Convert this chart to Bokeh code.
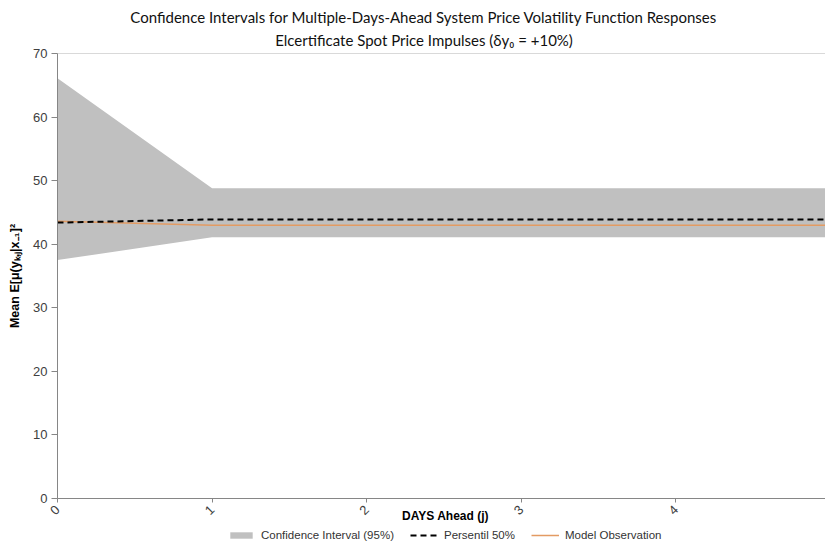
import math
from bokeh.plotting import figure
from bokeh.models import Range1d, Legend, LegendItem, Label, FixedTicker, LinearAxis
from bokeh.embed import file_html
from bokeh.resources import INLINE

# ---- data ----
days = [0, 1, 2, 3, 4, 5]
ci_upper = [66.1, 48.8, 48.8, 48.8, 48.8, 48.8]
ci_lower = [37.5, 41.1, 41.1, 41.1, 41.1, 41.1]
pct50 = [43.4, 43.9, 43.9, 43.9, 43.9, 43.9]
model_obs = [43.6, 43.0, 43.0, 43.0, 43.0, 43.0]
x_ticks = [0, 1, 2, 3, 4, 5]
y_ticks = [0, 10, 20, 30, 40, 50, 60, 70]
title1 = "Confidence Intervals for Multiple-Days-Ahead System Price Volatility Function Responses"
title2 = "Elcertificate Spot Price Impulses (\u03b4y\u2080 = +10%)"
y_label = "Mean E[\u03bc(y\u2096,\u2c7c|x\u208b\u2081]\u00b2"
x_label = "DAYS Ahead (j)"
legend_labels = ["Confidence Interval (95%)", "Persentil 50%", "Model Observation"]

# frame spans the whole canvas; both axes are pinned at the data origin
p = figure(width=825, height=546, output_backend="svg", toolbar_location=None,
           x_range=Range1d(-0.3687, 4.968), y_range=Range1d(-7.55, 78.34),
           min_border_left=0, min_border_right=0, min_border_top=0, min_border_bottom=0)
p.outline_line_color = None
p.xgrid.visible = False
p.ygrid.visible = False
p.background_fill_color = "white"

xax = p.below[0]
yax = p.left[0]

band = p.varea(x=days, y1=ci_lower, y2=ci_upper, fill_color="#C0C0C0")
obs = p.line(days, model_obs, line_color="#E39B63", line_width=1.5)
pct = p.line(days, pct50, line_color="black", line_width=2, line_dash="6 4")

AX = "#868686"
for ax in (xax, yax):
    ax.axis_line_color = AX
    ax.major_tick_line_color = AX
    ax.minor_tick_line_color = None
    ax.major_label_text_font = "Liberation Sans"
    ax.major_label_text_font_size = "13px"
    ax.major_label_text_color = "#404040"

yax.fixed_location = 0
yax.ticker = FixedTicker(ticks=y_ticks)
yax.bounds = (0, 70)
yax.major_tick_out = 6
yax.major_tick_in = 0
yax.major_label_standoff = 4
yax.axis_label = y_label
yax.axis_label_text_font = "Liberation Sans"
yax.axis_label_text_font_style = "bold"
yax.axis_label_text_font_size = "12.5px"
yax.axis_label_text_color = "#000000"
yax.axis_label_standoff = 8

xax.fixed_location = 0
xax.ticker = FixedTicker(ticks=x_ticks)
xax.bounds = (0, 5)
xax.major_tick_out = 4
xax.major_tick_in = 0
xax.major_label_orientation = math.pi / 4
xax.major_label_standoff = 5

# light plot-area border along the top of the data region
top_axis = LinearAxis(fixed_location=70, bounds=(0, 5), axis_line_color="#D9D9D9",
                      major_tick_line_color=None, minor_tick_line_color=None,
                      major_label_text_font_size="0px", ticker=FixedTicker(ticks=[]))
p.add_layout(top_axis, "above")

p.add_layout(Label(x=2.51, y=-2.7, text=x_label, text_align="center", text_baseline="middle",
                   text_font="Liberation Sans", text_font_style="bold", text_font_size="12px",
                   text_color="#000000"))
p.add_layout(Label(x=2.37, y=75.7, text=title1, text_align="center", text_baseline="middle",
                   text_font="Lato", text_font_size="15px", text_color="#111111"))
p.add_layout(Label(x=2.37, y=72.1, text=title2, text_align="center", text_baseline="middle",
                   text_font="Lato", text_font_size="15px", text_color="#111111"))

legend = Legend(items=[LegendItem(label=legend_labels[0], renderers=[band]),
                       LegendItem(label=legend_labels[1], renderers=[pct]),
                       LegendItem(label=legend_labels[2], renderers=[obs])],
                orientation="horizontal", location=(227, 5),
                label_text_font="Liberation Sans", label_text_font_size="11.5px",
                label_text_color="#333333", glyph_width=28, glyph_height=8,
                label_height=12, label_standoff=6, spacing=16, padding=3, margin=0,
                border_line_color=None, background_fill_alpha=0)
p.add_layout(legend, "center")

open("out.html", "w").write(file_html(p, INLINE))
